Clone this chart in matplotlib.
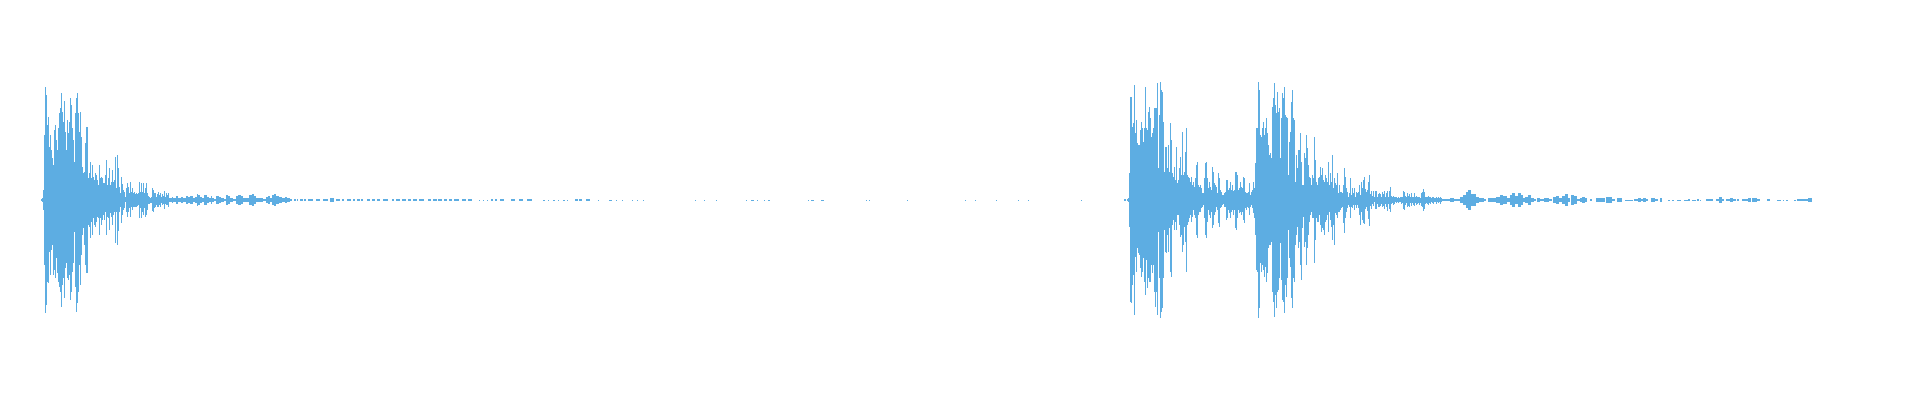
import numpy as np
import matplotlib
matplotlib.use('Agg')
import matplotlib.pyplot as plt

# цвет волны
wave_color = '#5DADE2'

# Первый удар: пики вверх / вниз по столбцам, начиная с отсчёта 41
hit1_start = 41
hit1_top = [
    1, 2, 10, 65, 113, 105, 75, 83, 53, 65,
    50, 42, 35, 70, 75, 60, 50, 72, 87, 92,
    107, 88, 78, 99, 68, 50, 80, 67, 78, 102,
    95, 72, 60, 38, 87, 102, 107, 87, 68, 88,
    63, 33, 27, 28, 57, 73, 73, 22, 27, 38,
    22, 35, 23, 20, 27, 25, 20, 15, 35, 22,
    23, 22, 17, 17, 25, 40, 15, 22, 32, 15,
    18, 30, 18, 20, 43, 12, 45, 32, 13, 7,
    23, 16, 10, 8, 3, 12, 17, 13, 7, 18,
    8, 12, 7, 8, 6, 7, 6, 7, 18, 8,
    17, 8, 17, 7, 12, 17, 7, 4, 3, 2,
    3, 12, 10, 7, 7, 3, 6, 8, 5, 7,
    3, 6, 4, 9, 3, 7, 5, 7, 2, 2,
    2, 3,
]
hit1_bot = [
    1, 2, 10, 65, 113, 105, 82, 83, 52, 75,
    50, 45, 75, 70, 78, 58, 73, 82, 87, 92,
    107, 85, 78, 98, 68, 63, 78, 80, 75, 100,
    92, 72, 63, 32, 87, 112, 103, 92, 65, 85,
    55, 35, 28, 45, 65, 73, 73, 25, 27, 38,
    22, 35, 18, 25, 27, 22, 17, 18, 35, 18,
    25, 20, 15, 20, 12, 35, 17, 18, 30, 13,
    17, 25, 15, 12, 43, 12, 45, 31, 12, 7,
    23, 15, 10, 8, 2, 12, 17, 12, 8, 17,
    7, 10, 7, 7, 7, 7, 6, 5, 18, 8,
    18, 12, 15, 8, 17, 15, 10, 4, 4, 3,
    3, 11, 12, 8, 7, 5, 7, 7, 5, 7,
    3, 5, 4, 9, 4, 5, 5, 7, 2, 2,
    2, 3,
]

# Второй и третий удары, начиная с отсчёта 1127
hit2_start = 1127
hit2_top = [
    1, 2, 27, 103, 103, 73, 77, 115, 67, 80,
    57, 55, 55, 70, 78, 72, 58, 72, 113, 72,
    70, 88, 93, 82, 63, 67, 72, 92, 92, 92,
    117, 32, 85, 118, 110, 108, 78, 28, 53, 53,
    32, 55, 28, 77, 60, 27, 23, 33, 20, 53,
    17, 20, 32, 43, 25, 68, 25, 28, 48, 72,
    25, 23, 22, 18, 23, 15, 18, 13, 22, 35,
    38, 15, 13, 15, 12, 7, 7, 22, 37, 38,
    22, 12, 18, 13, 10, 33, 28, 17, 15, 13,
    7, 27, 22, 10, 8, 5, 5, 7, 8, 20,
    20, 10, 12, 18, 10, 15, 9, 10, 28, 28,
    25, 10, 12, 18, 13, 12, 23, 22, 8, 7,
    7, 8, 17, 5, 8, 10, 18, 12, 37, 72,
    72, 118, 110, 65, 63, 72, 78, 65, 72, 82,
    67, 55, 45, 47, 42, 93, 102, 117, 95, 87,
    108, 88, 92, 42, 82, 107, 102, 113, 85, 83,
    82, 25, 58, 68, 98, 110, 82, 80, 18, 45,
    32, 50, 50, 67, 38, 15, 15, 47, 42, 65,
    52, 35, 23, 22, 15, 25, 22, 63, 40, 18,
    15, 22, 23, 33, 25, 32, 20, 18, 25, 22,
    18, 38, 15, 27, 18, 45, 12, 22, 17, 15,
    27, 7, 15, 8, 8, 7, 15, 32, 23, 12,
    8, 3, 7, 22, 5, 12, 7, 12, 3, 8,
    7, 8, 15, 5, 18, 12, 20, 23, 11, 8,
    10, 18, 25, 6, 9, 4, 9, 3, 9, 9,
    3, 6, 7, 6, 3, 8, 6, 9, 3, 7,
    9, 3, 9, 13, 4, 3, 4, 3, 3, 3,
    2, 3, 2, 3, 3, 3, 9, 8, 4, 3,
    7, 4, 6, 3, 7, 3, 3, 7, 3, 4,
    3, 3, 3, 2, 7, 8, 11, 8, 3, 3,
    3, 4, 3, 3, 2, 3, 3, 2, 2, 3,
    2, 3, 2, 3, 2,
]
hit2_bot = [
    1, 2, 27, 102, 103, 85, 75, 115, 57, 72,
    48, 53, 55, 68, 77, 72, 58, 82, 95, 60,
    88, 78, 82, 82, 65, 73, 65, 92, 107, 92,
    115, 32, 78, 118, 112, 108, 78, 30, 52, 53,
    35, 52, 28, 72, 77, 25, 20, 30, 22, 30,
    15, 15, 25, 37, 35, 52, 45, 27, 42, 72,
    25, 22, 18, 15, 22, 17, 10, 15, 18, 35,
    38, 15, 12, 12, 8, 7, 5, 18, 35, 38,
    22, 10, 15, 18, 12, 28, 25, 15, 12, 7,
    10, 23, 27, 8, 7, 5, 4, 7, 7, 20,
    18, 10, 13, 18, 12, 10, 15, 10, 28, 30,
    18, 10, 13, 12, 15, 12, 20, 23, 8, 10,
    7, 8, 15, 7, 5, 8, 13, 18, 35, 70,
    72, 118, 108, 63, 72, 65, 70, 77, 67, 82,
    73, 48, 45, 45, 42, 92, 102, 117, 95, 108,
    92, 90, 78, 43, 80, 100, 102, 113, 85, 97,
    78, 30, 58, 67, 98, 108, 78, 82, 45, 35,
    27, 48, 42, 65, 80, 28, 17, 47, 42, 65,
    48, 35, 22, 15, 12, 18, 18, 63, 40, 18,
    22, 22, 15, 25, 32, 28, 30, 35, 22, 20,
    15, 32, 12, 20, 27, 40, 25, 45, 13, 15,
    18, 12, 12, 10, 8, 7, 23, 33, 18, 12,
    8, 5, 7, 18, 7, 8, 5, 10, 5, 8,
    5, 8, 15, 25, 12, 20, 23, 24, 9, 7,
    11, 19, 26, 6, 9, 4, 6, 2, 9, 9,
    4, 7, 7, 6, 4, 7, 6, 9, 4, 7,
    11, 4, 9, 12, 4, 3, 5, 4, 2, 3,
    2, 3, 2, 2, 4, 3, 9, 10, 5, 3,
    7, 6, 7, 3, 6, 3, 5, 6, 3, 5,
    4, 3, 5, 3, 6, 7, 11, 9, 4, 3,
    4, 5, 3, 4, 2, 3, 4, 2, 2, 4,
    2, 3, 2, 4, 2,
]

# Тихие хвосты: начало, длина, амплитуда
tail_start = [
    173, 176, 178, 181, 183, 186, 188, 190, 193, 195, 197, 198, 200, 202, 204,
    207, 209, 211, 212, 214, 216, 219, 221, 224, 226, 228, 230, 233, 236, 238,
    241, 243, 246, 249, 252, 254, 256, 259, 263, 266, 268, 270, 272, 274, 276,
    279, 282, 285, 287, 290, 294, 297, 300, 304, 308, 316, 323, 330, 336, 342,
    347, 353, 357, 361, 367, 372, 377, 383, 392, 396, 402, 408, 413, 419, 428,
    433, 438, 444, 449, 454, 462, 468, 479, 483, 487, 491, 495, 500, 511, 519,
    527, 543, 548, 553, 558, 563, 567, 575, 579, 586, 598, 609, 616, 622, 632,
    637, 643, 695, 704, 716, 746, 751, 757, 764, 768, 808, 811, 821, 866, 869,
    907, 965, 975, 996, 1018, 1028, 1081, 1124,
    1442, 1450, 1454, 1460, 1463, 1466, 1468, 1471, 1473, 1476, 1479, 1481, 1484,
    1488, 1491, 1496, 1500, 1503, 1507, 1510, 1512, 1515, 1518, 1521, 1523, 1525,
    1528, 1531, 1534, 1537, 1540, 1544, 1549, 1553, 1556, 1559, 1562, 1565, 1568,
    1571, 1574, 1577, 1580, 1582, 1585, 1590, 1596, 1599, 1602, 1606, 1609, 1612,
    1617, 1625, 1634, 1638, 1641, 1643, 1646, 1651, 1655, 1660, 1668, 1672, 1677,
    1684, 1688, 1692, 1697, 1700, 1706, 1710, 1716, 1719, 1722, 1726, 1730, 1733,
    1737, 1742, 1748, 1752, 1757, 1767, 1777, 1783, 1786, 1794, 1797, 1803, 1808,
]
tail_len = [
    3, 2, 3, 2, 3, 2, 2, 3, 2, 2, 1, 2, 2, 2, 3,
    2, 2, 1, 2, 2, 3, 2, 3, 2, 2, 2, 3, 3, 2, 3,
    2, 3, 3, 3, 2, 2, 3, 4, 3, 2, 2, 2, 2, 2, 3,
    3, 3, 2, 3, 2, 2, 1, 3, 2, 5, 4, 5, 4, 4, 2,
    4, 2, 3, 2, 3, 3, 3, 5, 2, 4, 4, 3, 4, 5, 3,
    4, 4, 3, 3, 5, 4, 4, 1, 1, 1, 2, 2, 4, 4, 4,
    5, 2, 1, 2, 1, 2, 1, 3, 3, 4, 1, 3, 1, 1, 1,
    1, 1, 1, 1, 1, 1, 3, 1, 1, 2, 1, 3, 3, 1, 1,
    1, 1, 1, 1, 1, 1, 1, 2,
    8, 4, 6, 3, 3, 2, 3, 2, 3, 3, 2, 3, 2,
    3, 5, 4, 3, 4, 3, 2, 3, 3, 3, 2, 2, 3,
    3, 3, 2, 3, 4, 5, 3, 3, 3, 3, 3, 3, 2,
    3, 3, 3, 2, 3, 2, 2, 3, 3, 3, 3, 3, 3,
    5, 8, 4, 3, 2, 3, 2, 4, 3, 2, 2, 2, 4,
    4, 2, 4, 2, 1, 4, 3, 3, 3, 2, 4, 3, 3,
    2, 6, 3, 5, 3, 3, 4, 1, 2, 2, 6, 5, 4,
]
tail_amp = [
    2, 4, 2, 3, 2, 4, 3, 4, 2, 3, 6, 5, 3, 2, 5,
    3, 2, 4, 2, 1, 4, 3, 2, 1, 5, 4, 2, 1, 4, 5,
    4, 2, 2, 5, 6, 4, 2, 2, 1, 3, 4, 2, 5, 6, 4,
    3, 2, 3, 2, 1, 1, 1, 1, 1, 1, 1, 1, 2, 1, 1,
    1, 1, 1, 1, 1, 1, 1, 1, 1, 1, 1, 1, 1, 1, 1,
    1, 1, 1, 1, 1, 1, 1, 0.5, 0.5, 0.5, 1, 1, 1, 1, 1,
    1, 0.5, 0.5, 0.5, 0.5, 0.5, 0.5, 1, 1, 1, 0.5, 0.5, 0.5, 0.5, 0.5,
    0.5, 0.5, 0.5, 0.5, 0.5, 0.5, 0.5, 0.5, 0.5, 0.5, 0.5, 0.5, 0.5, 0.5, 0.5,
    0.5, 0.5, 0.5, 0.5, 0.5, 0.5, 0.5, 1,
    1, 2, 1, 3, 5, 8, 10, 6, 6, 3, 2, 2, 1,
    2, 2, 3, 5, 4, 2, 5, 7, 4, 7, 5, 2, 3,
    5, 2, 1, 2, 1, 2, 1, 3, 4, 2, 4, 6, 2,
    5, 4, 1, 2, 3, 2, 1, 2, 2, 2, 3, 3, 1,
    2, 0.5, 1, 2, 1, 2, 1, 2, 1, 2, 0.5, 0.5, 0.5,
    0.5, 1, 0.5, 1, 0.5, 1, 1, 1, 3, 1, 1, 2, 1,
    1, 1, 2, 2, 1, 1, 0.5, 0.5, 0.5, 0.5, 1, 1, 2,
]

fig = plt.figure(figsize=(19.2, 4), dpi=100)
ax = fig.add_axes([0, 0, 1, 1])

for start, top, bot in [(hit1_start, hit1_top, hit1_bot),
                        (hit2_start, hit2_top, hit2_bot)]:
    top = np.array(top, dtype=float)
    bot = np.array(bot, dtype=float)
    x = start + np.arange(len(top))
    ax.bar(x, top + bot, bottom=-bot, width=1, align='edge',
           color=wave_color, linewidth=0)

amp = np.array(tail_amp, dtype=float)
ax.bar(tail_start, 2 * amp, bottom=-amp, width=tail_len, align='edge',
       color=wave_color, linewidth=0)

ax.set_xlim(0, 1920)
ax.set_ylim(-200, 200)
ax.axis('off')

fig.savefig('out.png', dpi=100, facecolor='white')
